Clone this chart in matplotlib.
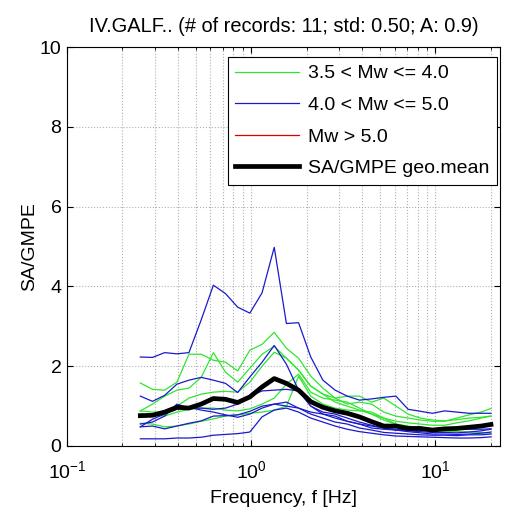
import matplotlib
matplotlib.use("Agg")
import matplotlib.pyplot as plt
from matplotlib.ticker import LogLocator, NullFormatter

plt.rcParams['font.family'] = ['Liberation Sans', 'DejaVu Sans']
plt.rcParams['mathtext.fontset'] = 'custom'
plt.rcParams['mathtext.rm'] = 'Liberation Sans'

# frequencies [Hz]
freq = [0.25, 0.291, 0.339, 0.395, 0.459, 0.535, 0.623, 0.725, 0.844, 0.983,
        1.145, 1.333, 1.552, 1.807, 2.104, 2.449, 2.852, 3.320, 3.866, 4.501,
        5.240, 6.101, 7.103, 8.270, 9.629, 11.21, 13.05, 15.20, 17.69, 20.0]

# 3.5 < Mw <= 4.0 records
green_1 = [1.58, 1.42, 1.40, 1.60, 2.30, 2.30, 2.15, 2.10, 1.88, 2.40, 2.55, 2.85, 2.45, 2.20, 1.75,
           1.45, 1.20, 1.05, 1.10, 1.05, 0.85, 0.75, 0.70, 0.65, 0.62, 0.62, 0.70, 0.78, 0.85, 0.94]
green_2 = [0.88, 1.05, 1.25, 1.40, 1.45, 1.72, 2.34, 1.85, 1.60, 1.95, 2.30, 2.50, 2.20, 1.90, 1.50,
           1.30, 1.20, 1.25, 1.25, 1.10, 1.20, 1.00, 0.80, 0.70, 0.65, 0.63, 0.66, 0.70, 0.72, 0.75]
green_3 = [0.88, 0.85, 0.85, 1.00, 1.20, 1.30, 1.35, 1.37, 1.35, 1.60, 2.00, 2.35, 2.20, 1.90, 1.50,
           1.30, 1.10, 1.00, 0.90, 0.80, 0.70, 0.62, 0.58, 0.55, 0.52, 0.52, 0.58, 0.63, 0.70, 0.75]
green_4 = [0.57, 0.55, 0.48, 0.50, 0.55, 0.62, 0.68, 0.75, 0.78, 0.82, 0.85, 0.90, 1.00, 1.75, 1.25,
           1.05, 0.95, 0.90, 0.88, 0.85, 0.70, 0.55, 0.45, 0.40, 0.38, 0.37, 0.36, 0.35, 0.34, 0.32]
green_5 = [0.80, 0.78, 0.75, 0.85, 0.92, 0.95, 0.95, 0.90, 0.88, 0.93, 1.05, 1.20, 1.55, 1.80, 1.35,
           1.20, 1.15, 1.10, 0.95, 0.80, 0.65, 0.55, 0.50, 0.45, 0.43, 0.43, 0.45, 0.48, 0.52, 0.55]

# 4.0 < Mw <= 5.0 records
blue_1 = [2.23, 2.22, 2.34, 2.31, 2.34, 3.16, 4.03, 3.82, 3.48, 3.33, 3.84, 4.98, 3.07, 3.09, 2.23,
          1.65, 1.40, 1.25, 1.15, 1.18, 1.22, 1.25, 0.92, 0.87, 0.82, 0.88, 0.85, 0.82, 0.82, 0.82]
blue_2 = [1.25, 1.12, 1.27, 1.55, 1.65, 1.72, 1.65, 1.57, 1.34, 1.73, 2.10, 2.52, 2.05, 1.40, 1.00,
          0.85, 0.80, 0.70, 0.60, 0.52, 0.45, 0.40, 0.38, 0.36, 0.34, 0.34, 0.33, 0.35, 0.38, 0.42]
blue_3 = [0.48, 0.50, 0.43, 0.50, 0.57, 0.63, 0.75, 0.76, 0.78, 0.87, 1.00, 1.05, 1.00, 0.95, 0.85,
          0.80, 0.75, 0.62, 0.55, 0.45, 0.42, 0.40, 0.36, 0.33, 0.30, 0.30, 0.29, 0.30, 0.32, 0.35]
blue_4 = [0.48, 0.67, 0.80, 0.92, 0.97, 0.90, 0.85, 0.78, 0.72, 0.80, 0.95, 1.05, 1.10, 0.95, 0.80,
          0.70, 0.60, 0.55, 0.45, 0.40, 0.34, 0.32, 0.30, 0.28, 0.27, 0.27, 0.26, 0.28, 0.28, 0.30]
blue_5 = [0.18, 0.18, 0.18, 0.20, 0.20, 0.22, 0.27, 0.29, 0.31, 0.35, 0.73, 0.90, 0.95, 0.85, 0.70,
          0.60, 0.50, 0.42, 0.36, 0.32, 0.28, 0.25, 0.24, 0.23, 0.22, 0.21, 0.20, 0.20, 0.21, 0.23]
blue_6 = [0.55, 0.60, 0.75, 1.05, 0.95, 0.95, 0.92, 0.95, 1.05, 1.25, 1.38, 1.40, 1.42, 1.38, 1.00,
          0.80, 0.70, 0.62, 0.55, 0.50, 0.45, 0.42, 0.40, 0.40, 0.40, 0.41, 0.42, 0.42, 0.42, 0.43]

geo_mean = [0.76, 0.77, 0.85, 0.97, 0.95, 1.05, 1.19, 1.17, 1.09, 1.23, 1.48, 1.69, 1.57, 1.40, 1.11,
            0.97, 0.88, 0.82, 0.73, 0.61, 0.50, 0.50, 0.44, 0.44, 0.40, 0.43, 0.44, 0.47, 0.50, 0.54]

greens = [green_1, green_2, green_3, green_4, green_5]
blues = [blue_1, blue_2, blue_3, blue_4, blue_5, blue_6]

GREEN = '#2ee62e'
BLUE = '#1a1acc'
RED = '#dd0000'
FS = 14

fig = plt.figure(figsize=(5.09, 5.19), dpi=100)
ax = fig.add_axes([67/509, 1-446/519, 433/509, 399/519])

for y in greens:
    ax.plot(freq, y, color=GREEN, lw=0.9)
for y in blues:
    ax.plot(freq, y, color=BLUE, lw=0.9)
ax.plot(freq, geo_mean, color='black', lw=3.4)

# legend handles (no Mw > 5 records here)
h1, = ax.plot([], [], color=GREEN, lw=0.9, label='3.5 < Mw <= 4.0')
h2, = ax.plot([], [], color=BLUE, lw=0.9, label='4.0 < Mw <= 5.0')
h3, = ax.plot([], [], color=RED, lw=0.9, label='Mw > 5.0')
h4, = ax.plot([], [], color='black', lw=3.4, label='SA/GMPE geo.mean')

ax.set_xscale('log')
ax.set_xlim(0.1, 22.4)
ax.set_ylim(0, 10)
ax.set_yticks([0, 2, 4, 6, 8, 10])
ax.xaxis.set_minor_locator(LogLocator(base=10, subs=range(2, 10)))
ax.xaxis.set_minor_formatter(NullFormatter())

ax.grid(True, which='major', ls=':', color='#b0b0b0', lw=0.8)
ax.grid(True, which='minor', axis='x', ls=':', color='#b0b0b0', lw=0.8)
ax.tick_params(which='both', direction='in', top=True, right=True, labelsize=FS)
ax.tick_params(which='major', length=4)
ax.tick_params(axis='x', which='major', pad=10)
ax.tick_params(axis='y', which='major', pad=4)
ax.tick_params(which='minor', length=2.5)

ax.set_title('IV.GALF.. (# of records: 11; std: 0.50; A: 0.9)', fontsize=14.4, pad=11)
ax.set_xlabel('Frequency, f [Hz]', fontsize=FS, labelpad=6)
ax.set_ylabel('SA/GMPE', fontsize=FS, labelpad=1)

leg = ax.legend(handles=[h1, h2, h3, h4], loc='upper right', fontsize=FS,
                bbox_to_anchor=(0.994, 0.975), borderaxespad=0,
                fancybox=False, edgecolor='black', framealpha=1,
                handlelength=3.3, handletextpad=0.45, labelspacing=0.72,
                borderpad=0.4)
leg.get_frame().set_linewidth(0.8)

fig.savefig('out.png', dpi=100)
